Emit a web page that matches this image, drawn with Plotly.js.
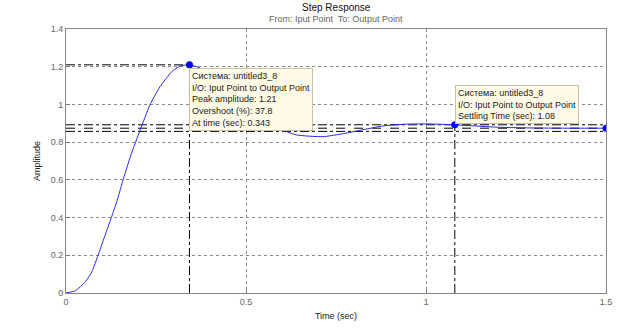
<!DOCTYPE html>
<html>
<head>
<meta charset="utf-8">
<script src="https://cdn.plot.ly/plotly-3.0.1.min.js"></script>
<style>
  html, body { margin: 0; padding: 0; background: #ffffff; }
  #chart { width: 624px; height: 328px; }
</style>
</head>
<body>
<div id="chart"></div>
<script>
// ---- Data ----
const time = [0, 0.026, 0.054, 0.072, 0.089, 0.107, 0.126, 0.142, 0.157, 0.18, 0.206, 0.233, 0.261, 0.294, 0.317, 0.343, 0.37, 0.40, 0.45, 0.50, 0.55, 0.59, 0.641, 0.714, 0.77, 0.825, 0.881, 0.94, 1.00, 1.08, 1.20, 1.30, 1.40, 1.50];
const amplitude = [0, 0.012, 0.06, 0.113, 0.2, 0.298, 0.4, 0.49, 0.59, 0.73, 0.864, 0.997, 1.094, 1.174, 1.204, 1.21, 1.195, 1.16, 1.07, 0.98, 0.91, 0.873, 0.838, 0.829, 0.845, 0.866, 0.886, 0.895, 0.897, 0.892, 0.879, 0.875, 0.874, 0.874];

const markerTimes = [0.343, 1.08, 1.5];
const markerAmps = [1.21, 0.892, 0.874];

const peakTime = 0.343, peakAmp = 1.21;
const settleTime = 1.08, settleAmp = 0.892;
const finalValue = 0.874, bandUpper = 0.892, bandLower = 0.857;
const tMin = 0, tMax = 1.5, aMin = 0, aMax = 1.4;

const xTicks = [0, 0.5, 1, 1.5];
const xTickLabels = ["0", "0.5", "1", "1.5"];
const yTicks = [0, 0.2, 0.4, 0.6, 0.8, 1, 1.2, 1.4];
const yTickLabels = ["0", "0.2", "0.4", "0.6", "0.8", "1", "1.2", "1.4"];

const titleText = "Step Response";
const subtitleText = "From: Iput Point  To: Output Point";
const xTitle = "Time (sec)";
const yTitle = "Amplitude";
const peakInfo = ["Система: untitled3_8", "I/O: Iput Point to Output Point", "Peak amplitude: 1.21", "Overshoot (%): 37.8", "At time (sec): 0.343"];
const settleInfo = ["Система: untitled3_8", "I/O: Iput Point to Output Point", "Settling Time (sec): 1.08"];

// ---- Traces ----
const refLine = (xs, ys, dash) => ({
  x: xs, y: ys, mode: 'lines', type: 'scatter', hoverinfo: 'skip', showlegend: false,
  line: { color: '#000000', width: 1, dash: dash }
});

const traces = [
  refLine([tMin, tMax], [bandUpper, bandUpper], 'dashdot'),
  refLine([tMin, tMax], [finalValue, finalValue], 'dash'),
  refLine([tMin, tMax], [bandLower, bandLower], 'dashdot'),
  refLine([tMin, peakTime], [peakAmp, peakAmp], 'dashdot'),
  refLine([peakTime, peakTime], [aMin, peakAmp], 'dashdot'),
  refLine([settleTime, settleTime], [aMin, settleAmp], 'dashdot'),
  {
    x: time, y: amplitude, mode: 'lines', type: 'scatter', showlegend: false,
    line: { color: '#2a2ae0', width: 1, shape: 'spline', smoothing: 0.5 }
  },
  {
    x: markerTimes, y: markerAmps, mode: 'markers', type: 'scatter', showlegend: false,
    marker: { color: '#0000ff', size: 7 }
  }
];

const font = "Liberation Sans, Arial, sans-serif";

const layout = {
  width: 624, height: 328,
  margin: { l: 66, r: 18, t: 29, b: 35 },
  paper_bgcolor: '#ffffff', plot_bgcolor: '#ffffff',
  font: { family: font, size: 9, color: '#555555' },
  xaxis: {
    range: [tMin, tMax], tickvals: xTicks, ticktext: xTickLabels,
    ticks: 'inside', ticklen: 4, tickcolor: '#777777',
    showgrid: true, gridcolor: '#888888', griddash: 'dot', gridwidth: 1,
    showline: true, linecolor: '#888888', linewidth: 1, mirror: true,
    zeroline: false, tickfont: { size: 9, color: '#666666' },
    title: { text: xTitle, font: { size: 9, color: '#222222' }, standoff: 6 }
  },
  yaxis: {
    range: [aMin, aMax], tickvals: yTicks, ticktext: yTickLabels,
    ticks: 'inside', ticklen: 4, tickcolor: '#777777',
    showgrid: true, gridcolor: '#888888', griddash: 'dot', gridwidth: 1,
    showline: true, linecolor: '#888888', linewidth: 1, mirror: true,
    zeroline: false, tickfont: { size: 9, color: '#666666' },
    title: { text: yTitle, font: { size: 9, color: '#222222' }, standoff: 8 }
  },
  annotations: [
    { xref: 'paper', yref: 'paper', x: 0.5, y: 1.083, yanchor: 'middle', showarrow: false,
      text: titleText, font: { size: 10, color: '#111111' } },
    { xref: 'paper', yref: 'paper', x: 0.5, y: 1.038, yanchor: 'middle', showarrow: false,
      text: subtitleText, font: { size: 9, color: '#666666' } },
    { xref: 'x', yref: 'y', x: peakTime, y: 1.195, xanchor: 'left', yanchor: 'top', showarrow: false,
      align: 'left', text: peakInfo.join('<br>'), font: { size: 9, color: '#222222' },
      bgcolor: '#fffbe6', bordercolor: '#c8c0a0', borderwidth: 1, borderpad: 2 },
    { xref: 'x', yref: 'y', x: settleTime, y: 1.105, xanchor: 'left', yanchor: 'top', showarrow: false,
      align: 'left', text: settleInfo.join('<br>'), font: { size: 9, color: '#222222' },
      bgcolor: '#fffbe6', bordercolor: '#c8c0a0', borderwidth: 1, borderpad: 2 }
  ]
};

Plotly.newPlot('chart', traces, layout, { displayModeBar: false, staticPlot: true });
</script>
</body>
</html>
